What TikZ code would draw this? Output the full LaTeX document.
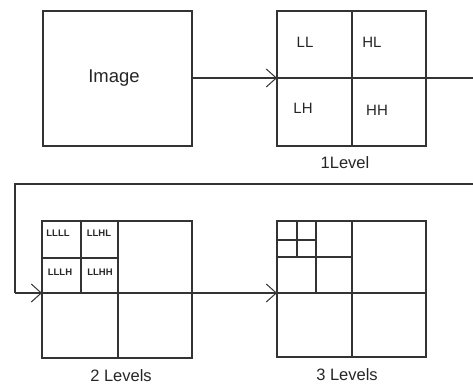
\documentclass[tikz,border=0pt]{standalone}
\usepackage{fontspec}
\setmainfont{Liberation Sans}
\usetikzlibrary{arrows.meta}
\begin{document}
\begin{tikzpicture}[x=1pt,y=-1pt,
  ln/.style={line width=1.1pt,draw=black!80},
  arr/.style={ln,-{Straight Barb[length=10pt,width=18pt,line width=1pt]}},
  big/.style={font=\fontsize{18.5}{20}\selectfont,text=black!85,inner sep=0pt},
  mid/.style={font=\fontsize{16.5}{18}\selectfont,text=black!85,inner sep=0pt},
  sub/.style={font=\fontsize{15}{16}\selectfont,text=black!85,inner sep=0pt},
  tiny/.style={font=\bfseries\fontsize{9.5}{10}\selectfont,text=black!85,inner sep=0pt}]
\useasboundingbox (0,0) rectangle (473,385);
% Image box
\draw[ln] (43,11) rectangle (192,146);
\node[big] (img) at (114,78) {Image};
\coordinate (imgR) at (192,78);
% Level 1
\draw[ln] (277,11) rectangle (426,146);
\draw[ln] (352,11) -- (352,146);
\draw[ln] (277,78) -- (426,78);
\coordinate (l1L) at (277,78);
\coordinate (l1R) at (426,78);
\coordinate (e1) at (473,78);
\node[sub] (ll) at (305,42) {LL};
\node[sub] (hl) at (372,42) {HL};
\node[sub] (lh) at (303,108) {LH};
\node[sub] (hh) at (377,110) {HH};
\node[mid] (lab1) at (345,163) {1Level};
\draw[arr] (imgR) -- (l1L);
\draw[ln] (l1R) -- (e1);
% return line
\coordinate (r1) at (473,184);
\coordinate (r2) at (15,184);
\coordinate (r3) at (15,293);
\coordinate (l2L) at (42,293);
\draw[ln] (r1) -- (r2) -- (r3);
\draw[arr] (r3) -- (l2L);
% Level 2
\draw[ln] (42,221) rectangle (192,358);
\draw[ln] (118,221) -- (118,358);
\draw[ln] (42,293) -- (192,293);
\draw[ln] (81,221) -- (81,293);
\draw[ln] (42,258) -- (118,258);
\node[tiny] (a) at (58,233) {LLLL};
\node[tiny] (b) at (99,233) {LLHL};
\node[tiny] (c) at (60,272) {LLLH};
\node[tiny] (d) at (100,272) {LLHH};
\node[mid] (lab2) at (121,376) {2 Levels};
\coordinate (l2R) at (192,293);
\coordinate (l3L) at (277,293);
\draw[arr] (l2R) -- (l3L);
% Level 3
\draw[ln] (277,221) rectangle (426,357);
\draw[ln] (352,221) -- (352,357);
\draw[ln] (277,293) -- (426,293);
\draw[ln] (316,221) -- (316,293);
\draw[ln] (277,257) -- (352,257);
\draw[ln] (297,221) -- (297,257);
\draw[ln] (277,240) -- (316,240);
\node[mid] (lab3) at (347,375) {3 Levels};
\end{tikzpicture}
\end{document}
